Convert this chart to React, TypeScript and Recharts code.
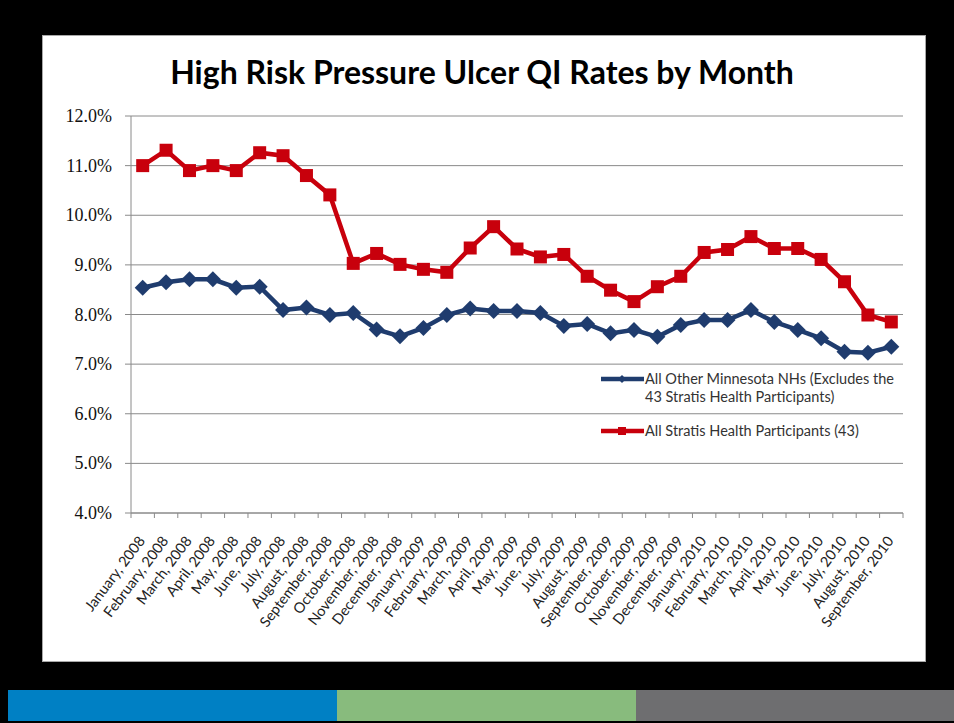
import { LineChart, Line, XAxis, YAxis, CartesianGrid, Legend } from "recharts";

const MONTHS = [
  "January, 2008", "February, 2008", "March, 2008", "April, 2008", "May, 2008", "June, 2008",
  "July, 2008", "August, 2008", "September, 2008", "October, 2008", "November, 2008", "December, 2008",
  "January, 2009", "February, 2009", "March, 2009", "April, 2009", "May, 2009", "June, 2009",
  "July, 2009", "August, 2009", "September, 2009", "October, 2009", "November, 2009", "December, 2009",
  "January, 2010", "February, 2010", "March, 2010", "April, 2010", "May, 2010", "June, 2010",
  "July, 2010", "August, 2010", "September, 2010",
];

const OTHER_MN = [
  8.54, 8.65, 8.71, 8.71, 8.54, 8.56, 8.09, 8.14, 7.99, 8.03, 7.7, 7.56,
  7.73, 7.99, 8.12, 8.07, 8.07, 8.03, 7.77, 7.81, 7.62, 7.69, 7.55, 7.79,
  7.89, 7.89, 8.09, 7.85, 7.69, 7.52, 7.25, 7.23, 7.35,
];

const STRATIS = [
  11.0, 11.31, 10.9, 11.0, 10.9, 11.26, 11.2, 10.8, 10.41, 9.03, 9.23, 9.01,
  8.91, 8.85, 9.34, 9.77, 9.32, 9.16, 9.21, 8.77, 8.49, 8.26, 8.56, 8.77,
  9.25, 9.31, 9.57, 9.33, 9.33, 9.11, 8.66, 7.99, 7.85,
];

const Y_TICKS = [4, 5, 6, 7, 8, 9, 10, 11, 12];

const OTHER_NAME = "All Other Minnesota NHs (Excludes the 43 Stratis Health Participants)";
const STRATIS_NAME = "All Stratis Health Participants (43)";

const BLUE = "#1f3c6e";
const RED = "#c8000c";
const AXIS = "#8a8a8a";
const LABEL_FONT = "Lato, 'Open Sans', sans-serif";

const PLOT_LEFT = 131;
const PLOT_RIGHT = 903;
const STEP = (PLOT_RIGHT - PLOT_LEFT) / MONTHS.length;

const data = MONTHS.map((m, i) => ({ month: m, other: OTHER_MN[i], stratis: STRATIS[i] }));

function XTick(props: any) {
  const { x, y, payload, index } = props;
  const half = STEP / 2;
  return (
    <g>
      <line x1={x - half} x2={x - half} y1={y} y2={y + 5} stroke={AXIS} />
      {index === MONTHS.length - 1 && (
        <line x1={x + half} x2={x + half} y1={y} y2={y + 5} stroke={AXIS} />
      )}
      <text
        transform={`translate(${x + 3},${y + 28}) rotate(-53)`}
        textAnchor="end"
        fontSize={14.5}
        fontFamily={LABEL_FONT}
        fill="#222"
      >
        {payload.value}
      </text>
    </g>
  );
}

function YTick(props: any) {
  const { x, y, payload } = props;
  return (
    <text
      x={x}
      y={y}
      dy={6}
      textAnchor="end"
      fontSize={18}
      fontFamily="'Liberation Serif', 'DejaVu Serif', serif"
      fill="#111"
    >
      {`${Number(payload.value).toFixed(1)}%`}
    </text>
  );
}

function SquareDot(props: any) {
  const { cx, cy, index } = props;
  return <rect key={`s${index}`} x={cx - 6.5} y={cy - 6.5} width={13} height={13} fill={RED} />;
}

function DiamondDot(props: any) {
  const { cx, cy, index } = props;
  return (
    <polygon
      key={`d${index}`}
      points={`${cx},${cy - 8} ${cx + 8},${cy} ${cx},${cy + 8} ${cx - 8},${cy}`}
      fill={BLUE}
    />
  );
}

function LegendBox(props: any) {
  const items = props.payload || [];
  return (
    <div style={{ width: 310, fontFamily: LABEL_FONT, fontSize: 14.5, color: "#333" }}>
      {items.map((it: any, i: number) => (
        <div key={i} style={{ display: "flex", alignItems: "flex-start", marginBottom: i === 0 ? 16 : 0 }}>
          <svg width={45} height={18} style={{ flex: "none" }}>
            <line x1={1} x2={44} y1={9} y2={9} stroke={it.color} strokeWidth={4.5} />
            {it.dataKey === "stratis" ? (
              <rect x={18} y={5} width={8} height={8} fill={it.color} />
            ) : (
              <polygon points="22,5 26,9 22,13 18,9" fill={it.color} />
            )}
          </svg>
          <span style={{ lineHeight: "18px", width: 255 }}>{it.value}</span>
        </div>
      ))}
    </div>
  );
}

export default function App() {
  return (
    <div style={{ position: "absolute", left: 0, top: 0, width: 954, height: 723, background: "#000", overflow: "hidden" }}>
      <div
        style={{
          position: "absolute", left: 42, top: 35, width: 882, height: 625,
          background: "#fff", border: "1.5px solid #a8a8a8",
        }}
      />
      <div
        style={{
          position: "absolute", left: 42, top: 52, width: 880, textAlign: "center",
          fontFamily: LABEL_FONT, fontWeight: 700, fontSize: 32, lineHeight: "40px", color: "#000",
        }}
      >
        High Risk Pressure Ulcer QI Rates by Month
      </div>
      <div style={{ position: "absolute", left: 8, top: 690, width: 329, height: 31, background: "#0080c4" }} />
      <div style={{ position: "absolute", left: 337, top: 690, width: 299, height: 31, background: "#88bb7d" }} />
      <div style={{ position: "absolute", left: 636, top: 690, width: 318, height: 31, background: "#6e6e70" }} />
      <div style={{ position: "absolute", left: 0, top: 0 }}>
        <LineChart
          width={954}
          height={723}
          data={data}
          margin={{ top: 116, right: 954 - PLOT_RIGHT, bottom: 110, left: PLOT_LEFT - 80 }}
        >
          <CartesianGrid vertical={false} stroke={AXIS} />
          <XAxis
            dataKey="month"
            interval={0}
            height={100}
            tickSize={0}
            tickMargin={0}
            padding={{ left: STEP / 2, right: STEP / 2 }}
            axisLine={{ stroke: AXIS }}
            tick={<XTick />}
          />
          <YAxis
            width={80}
            domain={[4, 12]}
            ticks={Y_TICKS}
            interval={0}
            tickSize={6}
            tickMargin={13}
            axisLine={{ stroke: AXIS }}
            tickLine={{ stroke: AXIS }}
            tick={<YTick />}
          />
          <Legend
            layout="vertical"
            align="center"
            verticalAlign="middle"
            wrapperStyle={{ left: 600, top: 370, width: 320 }}
            content={<LegendBox />}
          />
          <Line
            dataKey="other"
            name={OTHER_NAME}
            stroke={BLUE}
            strokeWidth={4.5}
            dot={DiamondDot}
            activeDot={false}
            isAnimationActive={false}
          />
          <Line
            dataKey="stratis"
            name={STRATIS_NAME}
            stroke={RED}
            strokeWidth={4.5}
            dot={SquareDot}
            activeDot={false}
            isAnimationActive={false}
          />
        </LineChart>
      </div>
    </div>
  );
}
